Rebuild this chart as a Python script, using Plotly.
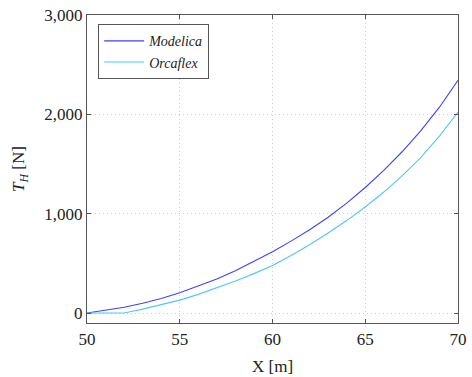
import plotly.graph_objects as go

x_m = [50, 51, 52, 53, 54, 55, 56, 57, 58, 59, 60, 61, 62, 63, 64, 65, 66, 67, 68, 69, 70]
modelica = [0, 26, 58, 98, 146, 204, 270, 344, 426, 518, 618, 724, 838, 964, 1106, 1264, 1436, 1626, 1836, 2072, 2342]
orcaflex = [0, 0, 0, 40, 83, 130, 188, 252, 322, 397, 479, 579, 687, 805, 931, 1068, 1218, 1383, 1568, 1781, 2023]

x_ticks = [50, 55, 60, 65, 70]
y_ticks = [0, 1000, 2000, 3000]
y_tick_text = ["0", "1,000", "2,000", "3,000"]

FONT = "Liberation Serif"

fig = go.Figure()
fig.add_trace(go.Scatter(x=x_m, y=modelica, mode="lines", name="<i>Modelica</i>",
                         line=dict(color="#4040ff", width=1.1)))
fig.add_trace(go.Scatter(x=x_m, y=orcaflex, mode="lines", name="<i>Orcaflex</i>",
                         line=dict(color="#50c8f5", width=1.1)))

axis_common = dict(
    showline=True, linecolor="#555555", linewidth=1.2, mirror="ticks",
    ticks="inside", ticklen=4, tickcolor="#555555", tickwidth=1,
    showgrid=True, gridcolor="#cfcfcf", griddash="1px,3px", gridwidth=1,
    zeroline=False, automargin=False,
    tickfont=dict(family=FONT, size=17, color="#222222"),
)

fig.update_layout(
    width=472, height=377,
    margin=dict(l=87, r=14, t=15, b=54),
    paper_bgcolor="white", plot_bgcolor="white",
    font=dict(family=FONT, color="#222222"),
    xaxis=dict(range=[50, 70], tickvals=x_ticks, ticktext=[str(v) for v in x_ticks],
               **axis_common),
    yaxis=dict(range=[-100, 3000], tickvals=y_ticks, ticktext=y_tick_text,
               **axis_common),
    legend=dict(x=0.03, y=0.97, xanchor="left", yanchor="top",
                bgcolor="white", bordercolor="#555555", borderwidth=1,
                font=dict(family=FONT, size=14, color="#222222"),
                tracegroupgap=0, itemwidth=40),
    showlegend=True,
    annotations=[
        dict(text="X [m]", xref="paper", yref="paper", x=0.5, y=0,
             xanchor="center", yanchor="middle", yshift=-43, showarrow=False,
             font=dict(family=FONT, size=17, color="#222222")),
        dict(text="<i>T<sub>H</sub></i> [N]", xref="paper", yref="paper", x=0, y=0.5,
             xanchor="center", yanchor="middle", xshift=-67, textangle=-90, showarrow=False,
             font=dict(family=FONT, size=17, color="#222222")),
    ],
)

fig.write_html("out.html")
